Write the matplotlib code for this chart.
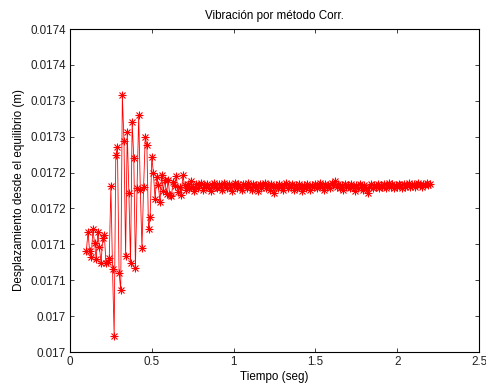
import numpy as np
import matplotlib
matplotlib.use("Agg")
import matplotlib.pyplot as plt

plt.rcParams['font.family'] = ['Liberation Sans', 'DejaVu Sans']

# time axis (s), sampled every 0.01 s from 0.10 to 2.20
t_start = 0.10
t_step = 0.01

# displacement, transient part (0.10 .. 0.69 s)
disp_early = [
    0.0171407, 0.0171671, 0.0171407, 0.0171323, 0.0171713, 0.0171518, 0.0171295, 0.0171671, 0.0171462, 0.0171240,
    0.0171588, 0.0171630, 0.0171240, 0.0171254, 0.0171309, 0.0172312, 0.0171156, 0.0170223, 0.0172744, 0.0172855,
    0.0171100, 0.0170864, 0.0173579, 0.0172939, 0.0171337, 0.0173064, 0.0172215, 0.0171240, 0.0173203, 0.0172702,
    0.0171170, 0.0172284, 0.0173301, 0.0172256, 0.0171449, 0.0172298, 0.0172995, 0.0172883, 0.0171713, 0.0171880,
    0.0172716, 0.0172493, 0.0172131, 0.0172437, 0.0172326, 0.0172089, 0.0172465, 0.0172242, 0.0172396, 0.0172201,
    0.0172396, 0.0172187, 0.0172173, 0.0172368, 0.0172312, 0.0172451, 0.0172228, 0.0172298, 0.0172187, 0.0172465,
]

# displacement, steady part (0.70 .. 2.20 s)
disp_late = [
    0.017232, 0.017226, 0.017234, 0.017228, 0.017238, 0.017230, 0.017224, 0.017234, 0.017228, 0.017232,
    0.017236, 0.017226, 0.017232, 0.017230, 0.017234, 0.017228, 0.017224, 0.017232, 0.017236, 0.017230,
    0.017228, 0.017234, 0.017230, 0.017226, 0.017236, 0.017232, 0.017228, 0.017234, 0.017230, 0.017224,
    0.017232, 0.017236, 0.017228, 0.017234, 0.017230, 0.017226, 0.017234, 0.017232, 0.017228, 0.017236,
    0.017230, 0.017226, 0.017234, 0.017230, 0.017232, 0.017224, 0.017234, 0.017228, 0.017232, 0.017236,
    0.017228, 0.017232, 0.017226, 0.017234, 0.017230, 0.017222, 0.017232, 0.017228, 0.017234, 0.017230,
    0.017226, 0.017232, 0.017236, 0.017228, 0.017232, 0.017230, 0.017234, 0.017226, 0.017232, 0.017228,
    0.017234, 0.017230, 0.017224, 0.017232, 0.017228, 0.017234, 0.017230, 0.017226, 0.017232, 0.017230,
    0.017234, 0.017228, 0.017232, 0.017236, 0.017230, 0.017226, 0.017234, 0.017230, 0.017232, 0.017228,
    0.017236, 0.017232, 0.017238, 0.017230, 0.017234, 0.017228, 0.017232, 0.017226, 0.017234, 0.017230,
    0.017232, 0.017228, 0.017234, 0.017230, 0.017224, 0.017232, 0.017228, 0.017234, 0.017230, 0.017226,
    0.017232, 0.017228, 0.017222, 0.017230, 0.017234, 0.017228, 0.017232, 0.017230, 0.017234, 0.017228,
    0.017232, 0.017230, 0.017234, 0.017228, 0.017232, 0.017236, 0.017230, 0.017234, 0.017228, 0.017232,
    0.017230, 0.017234, 0.017232, 0.017228, 0.017234, 0.017230, 0.017232, 0.017236, 0.017230, 0.017232,
    0.017234, 0.017230, 0.017232, 0.017236, 0.017232, 0.017230, 0.017234, 0.017232, 0.017236, 0.017232, 0.017234,
]

y_ticks = [0.01700, 0.01705, 0.01710, 0.01715, 0.01720, 0.01725, 0.01730, 0.01735, 0.01740, 0.01745]
y_labels = ['0.017', '0.017', '0.0171', '0.0171', '0.0172', '0.0172', '0.0173', '0.0173', '0.0174', '0.0174']
x_ticks = [0, 0.5, 1, 1.5, 2, 2.5]
x_labels = ['0', '0.5', '1', '1.5', '2', '2.5']

disp = np.array(disp_early + disp_late)
t = t_start + t_step * np.arange(len(disp))

fig = plt.figure(figsize=(4.86, 3.87), dpi=100)
ax = fig.add_axes([0.144, 0.0904, 0.8416, 0.8346])

# MATLAB-style asterisk: '+' and 'x' on top of each other
ax.plot(t, disp, color='red', lw=0.6, marker='+', ms=6, mew=0.8)
ax.plot(t, disp, color='red', lw=0, marker='x', ms=4, mew=0.8)

ax.set_xlim(0, 2.5)
ax.set_ylim(0.01700, 0.01745)
ax.set_xticks(x_ticks)
ax.set_xticklabels(x_labels)
ax.set_yticks(y_ticks)
ax.set_yticklabels(y_labels)
ax.tick_params(direction='in', length=3, width=0.6, top=True, right=True,
               labelsize=8.4, colors='#222222', pad=3)
for s in ax.spines.values():
    s.set_linewidth(0.8)

ax.set_title("Vibración por método Corr.", fontsize=8.4, pad=7)
ax.set_xlabel("Tiempo (seg)", fontsize=8.4, labelpad=2)
ax.set_ylabel("Desplazamiento desde el equilibrio (m)", fontsize=8.4, labelpad=4)

fig.savefig("out.png", dpi=100)
